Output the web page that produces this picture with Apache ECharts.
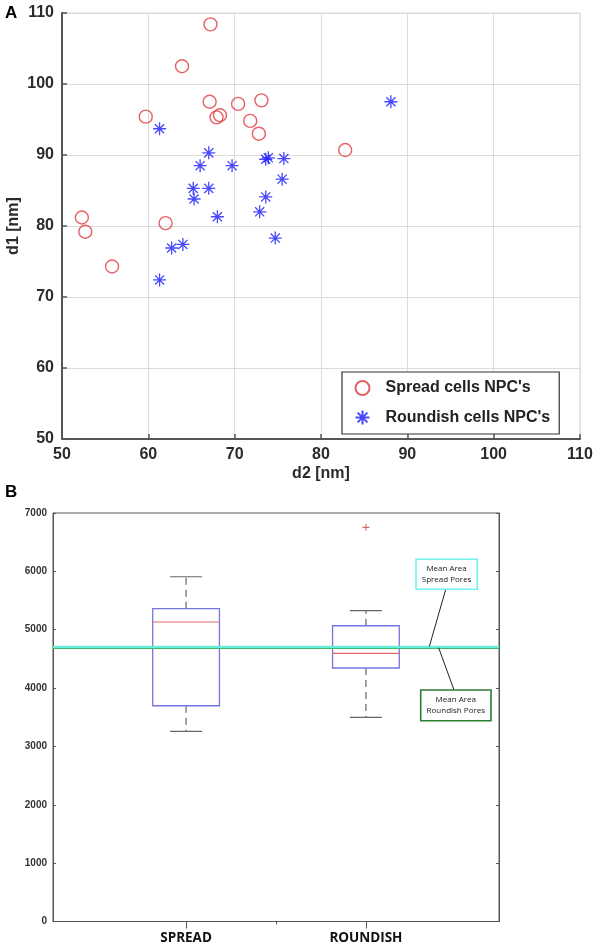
<!DOCTYPE html>
<html>
<head>
<meta charset="utf-8">
<script src="https://cdn.jsdelivr.net/npm/echarts@6/dist/echarts.min.js"></script>
<style>
html,body{margin:0;padding:0;background:#fff;}
#c{width:598px;height:952px;}
</style>
</head>
<body>
<div id="c"></div>
<script>
// ---- Panel A data ----
var spreadD2 = [67.2, 63.9, 59.7, 67.1, 70.4, 73.1, 67.9, 68.3, 71.8, 72.8, 52.3, 52.7, 62.0, 55.8, 82.8];
var spreadD1 = [108.4, 102.5, 95.4, 97.5, 97.2, 97.7, 95.3, 95.6, 94.8, 93.0, 81.2, 79.2, 80.4, 74.3, 90.7];
var roundD2 = [61.3, 67.0, 66.0, 69.7, 65.2, 67.0, 65.3, 68.0, 73.6, 73.9, 75.7, 75.5, 73.6, 72.9, 74.7, 62.7, 64.0, 61.3, 88.1];
var roundD1 = [93.7, 90.3, 88.5, 88.5, 85.3, 85.3, 83.8, 81.3, 89.4, 89.6, 89.5, 86.6, 84.1, 82.0, 78.3, 76.9, 77.4, 72.4, 97.5];
var seriesNames = ["Spread cells NPC's", "Roundish cells NPC's"];

// ---- Panel B data ----
var boxCategories = ['SPREAD', 'ROUNDISH'];
var boxPositions = [1, 2];
var boxMin = [3257, 3497];
var boxQ1 = [3697, 4344];
var boxMedian = [5132, 4594];
var boxQ3 = [5360, 5068];
var boxMax = [5908, 5326];
var outlierPos = [2];
var outlierVal = [6754];
var meanSpread = 4712;
var meanRoundish = 4690;

var spreadData = spreadD2.map(function (x, i) { return [x, spreadD1[i]]; });
var roundData = roundD2.map(function (x, i) { return [x, roundD1[i]]; });
var boxData = boxPositions.map(function (p, i) { return [p, boxMin[i], boxQ1[i], boxMedian[i], boxQ3[i], boxMax[i]]; });
var outlierData = outlierPos.map(function (p, i) { return [p, outlierVal[i]]; });

var starPath = 'path://M10 0L10 20M0 10L20 10M3 3L17 17M3 17L17 3';
var plusPath = 'path://M10 0L10 20M0 10L20 10';
var FONT = 'Liberation Sans, Arial, sans-serif';

var chart = echarts.init(document.getElementById('c'), null, {renderer: 'canvas'});

var option = {
  animation: false,
  backgroundColor: '#fff',
  grid: [
    {left: 62, top: 13, width: 518, height: 426, show: true, borderColor: '#d9d9d9', borderWidth: 1,
      containLabel: false, outerBoundsMode: 'none'},
    {left: 53, top: 513, width: 446, height: 408.5, show: true, borderColor: '#555', borderWidth: 1,
      containLabel: false, outerBoundsMode: 'none'}
  ],
  xAxis: [
    {
      gridIndex: 0, type: 'value', min: 50, max: 110, interval: 10,
      name: 'd2 [nm]', nameLocation: 'middle', nameGap: 27, nameMoveOverlap: false,
      nameTextStyle: {fontFamily: FONT, fontWeight: 'bold', fontSize: 16, color: '#2b2b2b'},
      axisLine: {show: true, lineStyle: {color: '#555', width: 2}},
      axisTick: {show: true, inside: true, length: 5, lineStyle: {color: '#555', width: 1.5}},
      axisLabel: {fontFamily: FONT, fontWeight: 'bold', fontSize: 16, color: '#2b2b2b', margin: 8},
      splitLine: {show: true, lineStyle: {color: '#dcdcdc', width: 1}}
    },
    {
      gridIndex: 1, type: 'value', min: 0.26, max: 2.74, position: 'bottom',
      axisLine: {show: true, lineStyle: {color: '#555', width: 1}},
      axisTick: {show: true, inside: false, length: 7, customValues: boxPositions, lineStyle: {color: '#555'}},
      axisLabel: {
        show: true, customValues: boxPositions, margin: 10,
        fontFamily: 'Open Sans, sans-serif', fontWeight: 'bold', fontSize: 13.5, color: '#111',
        formatter: function (v) { var i = boxPositions.indexOf(Math.round(v)); return i >= 0 ? boxCategories[i] : ''; }
      },
      splitLine: {show: false}
    },
    {
      gridIndex: 1, type: 'value', min: 0.26, max: 2.74, position: 'top',
      axisLine: {show: false},
      axisTick: {show: true, inside: true, length: 3, customValues: [1.5], lineStyle: {color: '#555'}},
      axisLabel: {show: false},
      splitLine: {show: false}
    }
  ],
  yAxis: [
    {
      gridIndex: 0, type: 'value', min: 50, max: 110, interval: 10,
      name: 'd1 [nm]', nameLocation: 'middle', nameGap: 40, nameRotate: 90, nameMoveOverlap: false,
      nameTextStyle: {fontFamily: FONT, fontWeight: 'bold', fontSize: 16, color: '#2b2b2b'},
      axisLine: {show: true, lineStyle: {color: '#555', width: 2}},
      axisTick: {show: true, inside: true, length: 5, lineStyle: {color: '#555', width: 1.5}},
      axisLabel: {fontFamily: FONT, fontWeight: 'bold', fontSize: 16, color: '#2b2b2b', margin: 8},
      splitLine: {show: true, lineStyle: {color: '#dcdcdc', width: 1}}
    },
    {
      gridIndex: 1, type: 'value', min: 0, max: 7000, interval: 1000, position: 'left',
      axisLine: {show: true, lineStyle: {color: '#555', width: 1}},
      axisTick: {show: true, inside: true, length: 3, lineStyle: {color: '#555'}},
      axisLabel: {fontFamily: FONT, fontWeight: 'bold', fontSize: 10, color: '#333', margin: 6,
        formatter: function (v) { return String(v); }},
      splitLine: {show: false}
    },
    {
      gridIndex: 1, type: 'value', min: 0, max: 7000, interval: 1000, position: 'right',
      axisLine: {show: true, lineStyle: {color: '#555', width: 1}},
      axisTick: {show: true, inside: true, length: 3, lineStyle: {color: '#555'}},
      axisLabel: {show: false},
      splitLine: {show: false}
    }
  ],
  legend: {
    orient: 'vertical', left: 342, top: 372,
    padding: [8, 9, 7, 11],
    itemWidth: 30, itemHeight: 14, itemGap: 12,
    backgroundColor: '#fff', borderColor: '#333', borderWidth: 1.2,
    textStyle: {fontFamily: FONT, fontWeight: 'bold', fontSize: 16, color: '#222', padding: [0, 0, 0, 3]},
    data: seriesNames
  },
  series: [
    {
      name: seriesNames[0], type: 'scatter', xAxisIndex: 0, yAxisIndex: 0,
      symbol: 'circle', symbolSize: 13,
      itemStyle: {color: 'rgba(255,255,255,0)', borderColor: '#e0393e', borderWidth: 1.4},
      data: spreadData
    },
    {
      name: seriesNames[1], type: 'scatter', xAxisIndex: 0, yAxisIndex: 0,
      symbol: starPath, symbolSize: 13,
      itemStyle: {color: 'none', borderColor: '#1a1aff', borderWidth: 1.3},
      data: roundData
    },
    {
      type: 'custom', xAxisIndex: 1, yAxisIndex: 1, silent: true,
      encode: {x: 0, y: [1, 2, 3, 4, 5]},
      renderItem: function (params, api) {
        var x = api.value(0);
        var pMin = api.coord([x, api.value(1)]);
        var pQ1 = api.coord([x, api.value(2)]);
        var pMed = api.coord([x, api.value(3)]);
        var pQ3 = api.coord([x, api.value(4)]);
        var pMax = api.coord([x, api.value(5)]);
        var hw = api.size([0.371, 0])[0] / 2;
        var cw = api.size([0.178, 0])[0] / 2;
        var cx = pMed[0];
        var dashStyle = {stroke: '#666', lineWidth: 1.2, lineDash: [7, 5]};
        var capStyle = {stroke: '#666', lineWidth: 1.2};
        return {
          type: 'group',
          children: [
            {type: 'line', shape: {x1: cx, y1: pQ3[1], x2: cx, y2: pMax[1]}, style: dashStyle},
            {type: 'line', shape: {x1: cx, y1: pQ1[1], x2: cx, y2: pMin[1]}, style: dashStyle},
            {type: 'line', shape: {x1: cx - cw, y1: pMax[1], x2: cx + cw, y2: pMax[1]}, style: capStyle},
            {type: 'line', shape: {x1: cx - cw, y1: pMin[1], x2: cx + cw, y2: pMin[1]}, style: capStyle},
            {type: 'rect', shape: {x: cx - hw, y: pQ3[1], width: 2 * hw, height: pQ1[1] - pQ3[1]},
              style: {fill: 'none', stroke: '#7575e6', lineWidth: 1.3}},
            {type: 'line', shape: {x1: cx - hw, y1: pMed[1], x2: cx + hw, y2: pMed[1]},
              style: {stroke: '#e26666', lineWidth: 1.2}}
          ]
        };
      },
      data: boxData
    },
    {
      type: 'scatter', xAxisIndex: 1, yAxisIndex: 1, silent: true,
      symbol: plusPath, symbolSize: 7,
      itemStyle: {color: 'none', borderColor: '#d04040', borderWidth: 1.1},
      data: outlierData,
      markLine: {
        silent: true, symbol: 'none', label: {show: false}, animation: false,
        data: [
          {yAxis: meanRoundish, lineStyle: {color: '#3f9f48', width: 2.2, type: 'solid'}},
          {yAxis: meanSpread, lineStyle: {color: '#66eedd', width: 2.4, type: 'solid'}}
        ]
      }
    }
  ],
  graphic: []
};

chart.setOption(option);

// annotations anchored to the mean lines
var ySpread = chart.convertToPixel({yAxisIndex: 1}, meanSpread);
var yRound = chart.convertToPixel({yAxisIndex: 1}, meanRoundish);
var annFont = '8px Open Sans, sans-serif';
chart.setOption({
  graphic: [
    {type: 'text', left: 5, top: 5, style: {text: 'A', font: 'bold 17px Liberation Sans, Arial, sans-serif', fill: '#000'}},
    {type: 'text', left: 5, top: 484, style: {text: 'B', font: 'bold 17px Liberation Sans, Arial, sans-serif', fill: '#000'}},
    {type: 'line', shape: {x1: 445.7, y1: 589.5, x2: 429.3, y2: ySpread}, style: {stroke: '#222', lineWidth: 1}, z: 100},
    {type: 'line', shape: {x1: 438.7, y1: yRound, x2: 454, y2: 690}, style: {stroke: '#222', lineWidth: 1}, z: 100},
    {type: 'rect', shape: {x: 416, y: 559.3, width: 61.3, height: 30}, style: {fill: '#fff', stroke: '#6ff2f2', lineWidth: 1.6}, z: 100},
    {type: 'text', x: 446.6, y: 574.3, style: {text: 'Mean Area\nSpread Pores', font: annFont, fill: '#222', align: 'center', verticalAlign: 'middle', lineHeight: 11}, z: 101},
    {type: 'rect', shape: {x: 420.7, y: 690, width: 70.3, height: 30.7}, style: {fill: '#fff', stroke: '#2e7d32', lineWidth: 1.6}, z: 100},
    {type: 'text', x: 455.8, y: 705.3, style: {text: 'Mean Area\nRoundish Pores', font: annFont, fill: '#222', align: 'center', verticalAlign: 'middle', lineHeight: 11}, z: 101}
  ]
});
</script>
</body>
</html>
